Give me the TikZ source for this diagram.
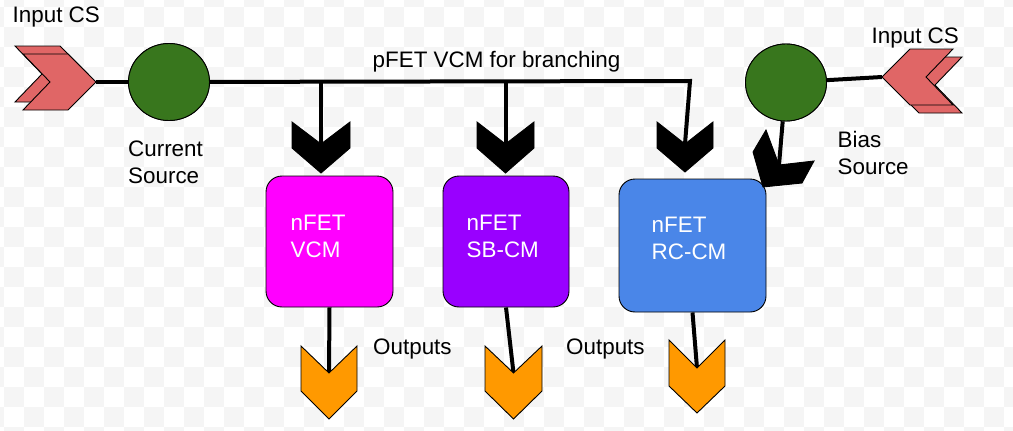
\documentclass[tikz,border=0pt]{standalone}
\usepackage{fontspec}
\setmainfont{Liberation Sans}
\usetikzlibrary{shapes.geometric}
\definecolor{chk}{HTML}{F5F5F5}
\definecolor{inred}{HTML}{E06666}
\definecolor{srcgreen}{HTML}{38761D}
\definecolor{fetpink}{HTML}{FF00FF}
\definecolor{fetpurple}{HTML}{9900FF}
\definecolor{fetblue}{HTML}{4A86E8}
\definecolor{outorange}{HTML}{FF9900}
\begin{document}
\begin{tikzpicture}[x=1pt,y=-1pt,
  wire/.style={line width=4pt},
  shp/.style={draw=black,line width=0.9pt,line join=miter},
  lbl/.style={anchor=base west,inner sep=0pt,align=left,font=\fontsize{22.4}{27}\selectfont},
  boxlbl/.style={lbl,text=white},
  fet/.style={draw=black,line width=0.9pt,rounded corners=16pt,inner sep=0pt},
  src/.style={ellipse,draw=black,line width=0.9pt,fill=srcgreen,inner sep=0pt,minimum width=81pt,minimum height=77pt}]
\useasboundingbox (0,0) rectangle (1013,431);
\fill[white] (0,0) rectangle (1013,431);
\begin{scope}
\clip (0,0) rectangle (1013,431);
\foreach \j in {0,...,22}{
  \pgfmathtruncatemacro\st{mod(\j+1,2)}
  \foreach \k in {0,...,25}{
    \fill[chk] ({-16+20*(\st+2*\k)},{-13+20*\j}) rectangle +(20,20);
  }
}
\end{scope}

% nodes
\node[src] (cs) at (169,82) {};
\node[src] (bs) at (786,82.5) {};
\node[fet,fill=fetpink,minimum width=127pt,minimum height=131pt] (vcm) at (329.5,241.5) {};
\node[fet,fill=fetpurple,minimum width=126pt,minimum height=131pt] (sbcm) at (506,241.5) {};
\node[fet,fill=fetblue,minimum width=147pt,minimum height=133pt] (rccm) at (692.5,245.5) {};

% connection points
\coordinate (inL) at (96,82);
\coordinate (inR) at (882,77);
\coordinate (br1) at (321,82);
\coordinate (br2) at (505.5,82);
\coordinate (busend) at (690,81);
\coordinate (n1) at (321,144);
\coordinate (n2) at (505.5,144);
\coordinate (n3) at (685,144);
\coordinate (nb) at (779,165);
\coordinate (o1) at (329,373);
\coordinate (o2) at (513.5,373);
\coordinate (o3) at (697,368);

% connectors
\draw[wire] (inL) -- (cs);
\draw[wire] (cs) -- (busend) -- (n3);
\draw[wire] (br1) -- (n1);
\draw[wire] (br2) -- (n2);
\draw[wire] (inR) -- (bs);
\draw[wire] (bs) -- (nb);
\draw[wire] (vcm.south) -- (o1);
\draw[wire] (sbcm.south) -- (o2);
\draw[wire] (rccm.south) -- (o3);

% redraw shapes on top
\node[src] at (cs) {};
\node[src] at (bs) {};

% input chevrons
\draw[shp,fill=inred] (15,46) -- (60,46) -- (88,74) -- (60,102) -- (15,102) -- (42,74) -- cycle;
\draw[shp,fill=inred] (23,54) -- (68,54) -- (96,82) -- (68,110) -- (23,110) -- (50,82) -- cycle;
\draw[shp,fill=inred] (891,85) -- (919,57) -- (962,57) -- (935,85) -- (962,113) -- (919,113) -- cycle;
\draw[shp,fill=inred] (882,77) -- (910,49) -- (953,49) -- (926,77) -- (953,105) -- (910,105) -- cycle;

% black chevrons
\draw[shp,fill=black] (292,122) -- (n1) -- (350,122) -- (350,148) -- (321,173) -- (292,148) -- cycle;
\draw[shp,fill=black] (477,122) -- (n2) -- (534,122) -- (534,148) -- (505.5,173) -- (477,148) -- cycle;
\draw[shp,fill=black] (657,122) -- (n3) -- (713,122) -- (713,148) -- (685,172) -- (657,148) -- cycle;
\draw[shp,fill=black] (766,130) -- (753,152) -- (763,187) -- (802,183) -- (814,161) -- (nb) -- cycle;

% output chevrons
\draw[shp,fill=outorange] (301,346) -- (o1) -- (357,346) -- (357,391) -- (329,419) -- (301,391) -- cycle;
\draw[shp,fill=outorange] (485,346) -- (o2) -- (542,346) -- (542,391) -- (513.5,419) -- (485,391) -- cycle;
\draw[shp,fill=outorange] (669,340) -- (o3) -- (725,340) -- (725,386) -- (697,413) -- (669,386) -- cycle;

% labels (multi-line: base = last line)
\node[lbl] (tinL) at (12.5,23) {Input CS};
\node[lbl] (tinR) at (871.5,43) {Input CS};
\node[lbl] (tcs) at (128,183) {Current\\Source};
\node[lbl] (tbs) at (837.5,174.5) {Bias\\Source};
\node[lbl] (tbus) at (372.5,67) {pFET VCM for branching};
\node[lbl] (tout1) at (373,354) {Outputs};
\node[lbl] (tout2) at (566,354) {Outputs};
\node[boxlbl] (tvcm) at (290.5,257) {nFET\\VCM};
\node[boxlbl] (tsb) at (466.5,257) {nFET\\SB-CM};
\node[boxlbl] (trc) at (651.5,259) {nFET\\RC-CM};
\end{tikzpicture}
\end{document}
